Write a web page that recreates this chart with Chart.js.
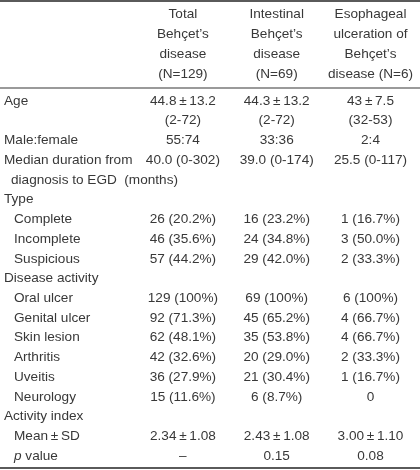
<!DOCTYPE html>
<html>
<head>
<meta charset="utf-8">
<script src="https://cdn.jsdelivr.net/npm/chart.js@4.4.1/dist/chart.umd.min.js"></script>
<style>
  html, body { margin: 0; padding: 0; background: #ffffff; }
  #wrap { width: 420px; height: 470px; }
</style>
</head>
<body>
<div id="wrap"><canvas id="c" width="420" height="470"></canvas></div>
<script>
// ---- Table content ----
const columnHeaders = [
  ['Total', 'Behçet’s', 'disease', '(N=129)'],
  ['Intestinal', 'Behçet’s', 'disease', '(N=69)'],
  ['Esophageal', 'ulceration of', 'Behçet’s', 'disease (N=6)']
];

const rowLabels = [
  'Age', '', 'Male:female', 'Median duration from', 'diagnosis to EGD  (months)',
  'Type', 'Complete', 'Incomplete', 'Suspicious',
  'Disease activity', 'Oral ulcer', 'Genital ulcer', 'Skin lesion', 'Arthritis', 'Uveitis', 'Neurology',
  'Activity index', 'Mean\u2009±\u2009SD', 'p value'
];
// 0 = heading, 1 = wrapped continuation, 2 = sub-item
const rowLevel = [0, 0, 0, 0, 1, 0, 2, 2, 2, 0, 2, 2, 2, 2, 2, 2, 0, 2, 2];
const italicLeadWords = ['p'];

const totalBehcet = [
  '44.8\u2009±\u200913.2', '(2-72)', '55:74', '40.0 (0-302)', '', '',
  '26 (20.2%)', '46 (35.6%)', '57 (44.2%)', '',
  '129 (100%)', '92 (71.3%)', '62 (48.1%)', '42 (32.6%)', '36 (27.9%)', '15 (11.6%)', '',
  '2.34\u2009±\u20091.08', '–'
];
const intestinalBehcet = [
  '44.3\u2009±\u200913.2', '(2-72)', '33:36', '39.0 (0-174)', '', '',
  '16 (23.2%)', '24 (34.8%)', '29 (42.0%)', '',
  '69 (100%)', '45 (65.2%)', '35 (53.8%)', '20 (29.0%)', '21 (30.4%)', '6 (8.7%)', '',
  '2.43\u2009±\u20091.08', '0.15'
];
const esophagealBehcet = [
  '43\u2009±\u20097.5', '(32-53)', '2:4', '25.5 (0-117)', '', '',
  '1 (16.7%)', '3 (50.0%)', '2 (33.3%)', '',
  '6 (100%)', '4 (66.7%)', '4 (66.7%)', '2 (33.3%)', '1 (16.7%)', '0', '',
  '3.00\u2009±\u20091.10', '0.08'
];

const columns = [totalBehcet, intestinalBehcet, esophagealBehcet];

// ---- Styling ----
const FONT = '"Liberation Sans", Arial, Helvetica, sans-serif';
const FONT_SIZE = 13.6;
const TEXT_COLOR = '#383838';
const LEVEL_INDENT = [1, 8, 11];

const datasets = columns.map((col, c) => ({
  label: columnHeaders[c].join(' '),
  data: col.map((t, r) => t ? { x: c + 1, y: r, text: t } : null).filter(Boolean),
  pointRadius: 0,
  pointHoverRadius: 0,
  showLine: false
}));

const tablePlugin = {
  id: 'tableText',
  beforeDraw(chart) {
    const ctx = chart.ctx;
    ctx.save();
    ctx.fillStyle = '#ffffff';
    ctx.fillRect(0, 0, chart.width, chart.height);
    ctx.restore();
  },
  afterDraw(chart) {
    const ctx = chart.ctx;
    const ys = chart.scales.y;
    const xs = chart.scales.x;
    const area = chart.chartArea;
    ctx.save();
    // rules
    ctx.fillStyle = '#5a5a5a';
    ctx.fillRect(0, 0, chart.width, 2);
    ctx.fillStyle = '#9a9a9a';
    ctx.fillRect(0, xs.bottom - 4, chart.width, 2);
    ctx.fillStyle = '#5a5a5a';
    ctx.fillRect(0, area.bottom + 1, chart.width, 2);

    // cell texts
    ctx.fillStyle = TEXT_COLOR;
    ctx.font = FONT_SIZE + 'px ' + FONT;
    ctx.textAlign = 'center';
    ctx.textBaseline = 'middle';
    chart.data.datasets.forEach((ds, d) => {
      const meta = chart.getDatasetMeta(d);
      meta.data.forEach((el, j) => {
        ctx.fillText(ds.data[j].text, el.x, el.y);
      });
    });

    // row labels
    ctx.textAlign = 'left';
    rowLabels.forEach((lab, r) => {
      if (!lab) return;
      const y = ys.getPixelForValue(r);
      let x = ys.left + LEVEL_INDENT[rowLevel[r]];
      const first = lab.split(' ')[0];
      if (italicLeadWords.includes(first) && lab.length > first.length) {
        ctx.font = 'italic ' + FONT_SIZE + 'px ' + FONT;
        ctx.fillText(first, x, y);
        x += ctx.measureText(first).width;
        ctx.font = FONT_SIZE + 'px ' + FONT;
        ctx.fillText(lab.slice(first.length), x, y);
      } else {
        ctx.font = FONT_SIZE + 'px ' + FONT;
        ctx.fillText(lab, x, y);
      }
    });
    ctx.restore();
  }
};

new Chart(document.getElementById('c'), {
  type: 'scatter',
  data: { datasets },
  options: {
    responsive: false,
    animation: false,
    events: [],
    devicePixelRatio: 1,
    layout: { padding: { left: 3, right: 0, top: 4, bottom: 4 } },
    plugins: { legend: { display: false }, tooltip: { enabled: false } },
    scales: {
      x: {
        type: 'linear',
        position: 'top',
        min: 0.5,
        max: 3.47,
        grid: { display: false, drawTicks: false },
        border: { display: false },
        afterBuildTicks(scale) {
          scale.ticks = columnHeaders.map((h, i) => ({ value: i + 1 }));
        },
        afterFit(scale) { scale.height = 87; },
        ticks: {
          autoSkip: false,
          maxRotation: 0,
          minRotation: 0,
          padding: 7,
          color: TEXT_COLOR,
          font: { family: FONT, size: FONT_SIZE, lineHeight: '20px' },
          callback: (v, i) => columnHeaders[i]
        }
      },
      y: {
        type: 'linear',
        reverse: true,
        min: -0.5,
        max: rowLabels.length - 0.5,
        grid: { display: false, drawTicks: false },
        border: { display: false },
        ticks: { display: false },
        afterFit(scale) { scale.width = 133; }
      }
    }
  },
  plugins: [tablePlugin]
});
</script>
</body>
</html>
